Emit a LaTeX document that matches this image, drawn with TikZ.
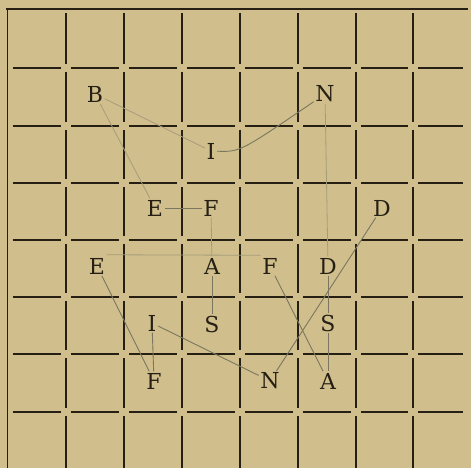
\documentclass[tikz,border=0pt]{standalone}
\usepackage{fontspec}
\newfontfamily\letterfont{DejaVu Serif}
\definecolor{paper}{RGB}{208,191,140}
\definecolor{ink}{RGB}{38,32,20}
\definecolor{pencil}{RGB}{122,118,96}
\definecolor{faint}{RGB}{165,156,122}
\begin{document}
\begin{tikzpicture}[x=1pt,y=-1pt,
  letter/.style={font=\letterfont\fontsize{22}{22}\selectfont, inner sep=1.5pt, text=ink},
  gridline/.style={ink, line width=1.2pt},
  link/.style={pencil, line width=0.9pt},
  faintlink/.style={faint, line width=0.8pt}]
\fill[paper] (0,0) rectangle (471,468);
\useasboundingbox (0,0) rectangle (471,468);
% grid
\foreach \y in {68,126,183,240,297,354,412} {
  \foreach \a/\b in {7.5/66,66/124,124/182,182/240,240/298,298/356,356/413,413/468} {
    \draw[gridline] (\a+5,\y) -- (\b-5,\y);
  }
}
\foreach \x in {66,124,182,240,298,356,413} {
  \foreach \a/\b in {9/68,68/126,126/183,183/240,240/297,297/354,354/412,412/473} {
    \draw[gridline] (\x,\a+4) -- (\x,\b-4);
  }
}
\draw[ink, line width=2pt] (6,9) -- (468,9);
\draw[ink, line width=1.6pt] (7.5,8) -- (7.5,468);
% letters
\node[letter] (B)  at (95,94)   {B};
\node[letter] (N1) at (325,94)  {N};
\node[letter] (I1) at (211,151) {I};
\node[letter] (E1) at (155,208) {E};
\node[letter] (F1) at (211,208) {F};
\node[letter] (D1) at (382,208) {D};
\node[letter] (E2) at (97,266)  {E};
\node[letter] (A2) at (212,266) {A};
\node[letter] (F2) at (270,266) {F};
\node[letter] (D2) at (328,266) {D};
\node[letter] (I3) at (152,323) {I};
\node[letter] (S3) at (212,324) {S};
\node[letter] (S4) at (328,323) {S};
\node[letter] (F5) at (154,381) {F};
\node[letter] (N5) at (270,381) {N};
\node[letter] (A5) at (328,381) {A};
% connectors
\draw[faintlink] (B) -- (I1);
\draw[faintlink] (B) -- (E1);
\draw[link] (I1) .. controls (240,152) .. (N1);
\draw[link] (E1) -- (F1);
\draw[faintlink] (F1) -- (A2);
\draw[faintlink] ([yshift=1.5pt]E2.north east) -- ([yshift=1pt]F2.north west);
\draw[link] (A2) -- (S3);
\draw[link] (F2) -- (A5);
\draw[link] (D1) -- (N5);
\draw[faintlink] (N1) -- (D2);
\draw[link] (D2) -- (S4);
\draw[link] (S4) -- (A5);
\draw[link] (E2) -- (F5);
\draw[link] (I3) -- (F5);
\draw[link] (I3) -- (N5);
\end{tikzpicture}
\end{document}
